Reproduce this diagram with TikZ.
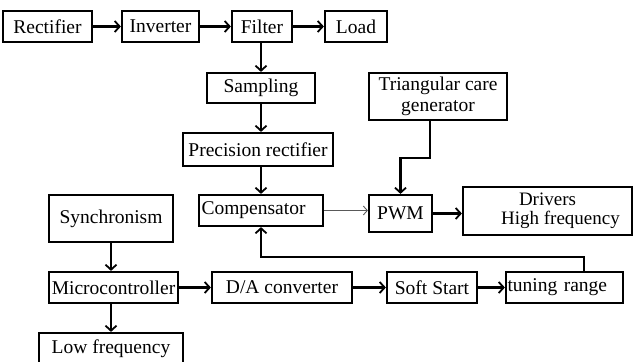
\documentclass[tikz,border=0pt]{standalone}
\usepackage{fontspec}
\setmainfont{Liberation Serif}
\usetikzlibrary{arrows.meta}
\begin{document}
\begin{tikzpicture}[x=1pt,y=-1pt,
  box/.style={draw,line width=2.2pt,inner sep=2pt,font=\fontsize{19.5}{21}\selectfont,align=center},
  conn/.style={line width=2.2pt,-{Straight Barb[length=5pt,width=11pt,line width=1.8pt]}},
  thin/.style={line width=0.9pt,gray!70!black,-{Straight Barb[length=4pt,width=9pt,line width=0.9pt]}}]
\useasboundingbox (0,0) rectangle (633,362);
\node[box,minimum width=89,minimum height=31] (rect) at (47.5,26.5) {Rectifier};
\node[box,minimum width=77,minimum height=31] (inv) at (160.5,26.5) {Inverter};
\node[box,minimum width=60,minimum height=31] (filt) at (262,26.5) {Filter};
\node[box,minimum width=62,minimum height=31] (load) at (356,26.5) {Load};
\node[box,minimum width=108,minimum height=30] (samp) at (261,88) {Sampling};
\node[box,minimum width=150,minimum height=33,inner xsep=0pt] (prec) at (258,149.5) {Precision rectifier};
\node[box,minimum height=31,text width=119pt,align=left,inner xsep=2.5pt] (comp) at (261,210.5) {Compensator};
\node[box,minimum width=138,minimum height=47,font=\fontsize{19.5}{21}\selectfont] (tri) at (438,96.5) {Triangular care\\generator};
\node[box,minimum width=169,minimum height=48,font=\fontsize{19}{19}\selectfont,inner ysep=1pt] (drv) at (547.5,211) {Drivers\\\hspace*{26pt}High frequency};
\node[box,minimum width=63,minimum height=37] (pwm) at (400.5,213.5) {PWM};
\node[box,minimum width=124,minimum height=47] (sync) at (111,218.5) {Synchronism};
\node[box,minimum width=129,minimum height=31,inner xsep=0pt] (micro) at (113.5,287.5) {Microcontroller};
\node[box,minimum width=140,minimum height=31] (da) at (282,287.5) {D/A converter};
\node[box,minimum width=90,minimum height=31] (soft) at (432,287.5) {Soft Start};
\node[box,minimum height=31,text width=114pt,align=left,inner xsep=1.5pt] (tune) at (564.5,287.5) {tuning range};
\node[box,minimum width=144,minimum height=31] (low) at (111,348.5) {Low frequency};
\coordinate (t1) at (430,120);
\coordinate (t2) at (430,158);
\coordinate (t3) at (400.5,158);
\coordinate (f1) at (584,272);
\coordinate (f2) at (584,257);
\coordinate (f3) at (261,257);
\draw[conn] (rect) -- (inv);
\draw[conn] (inv) -- (filt);
\draw[conn] (filt) -- (load);
\draw[conn] (filt.south -| samp.north) -- (samp.north);
\draw[conn] (samp.south) -- (samp.south |- prec.north);
\draw[conn] (prec.south -| comp.north) -- (comp.north);
\draw[thin] (comp.east) -- (comp.east -| pwm.west);
\draw[conn] (t1) -- (t2) -- (t3) -- (pwm.north);
\draw[conn] (pwm.east) -- (pwm.east -| drv.west);
\draw[conn] (sync) -- (sync.south |- micro.north);
\draw[conn] (micro.south -| low.north) -- (low.north);
\draw[conn] (micro) -- (da);
\draw[conn] (da) -- (soft);
\draw[conn] (soft) -- (tune);
\draw[conn] (f1) -- (f2) -- (f3) -- (comp.south);
\end{tikzpicture}
\end{document}
